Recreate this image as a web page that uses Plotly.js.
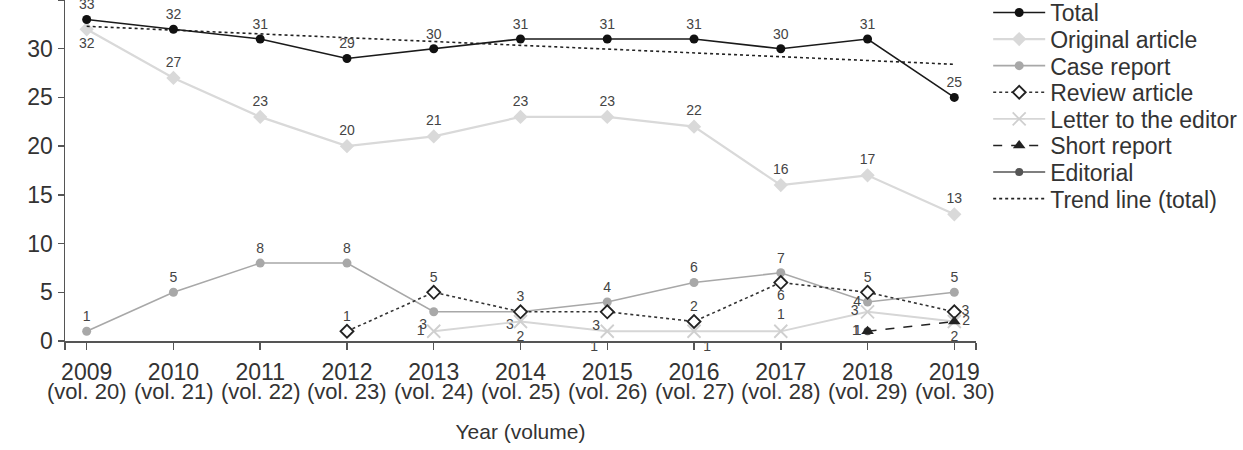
<!DOCTYPE html>
<html>
<head>
<meta charset="utf-8">
<script src="https://cdn.plot.ly/plotly-3.0.1.min.js"></script>
<style>
  html, body { margin: 0; padding: 0; background: #fff; }
  #chart { width: 1243px; height: 450px; }
</style>
</head>
<body>
<div id="chart"></div>
<script>
// Publications per year by article type
const years = [2009, 2010, 2011, 2012, 2013, 2014, 2015, 2016, 2017, 2018, 2019];
const volumes = ['(vol. 20)', '(vol. 21)', '(vol. 22)', '(vol. 23)', '(vol. 24)', '(vol. 25)',
                 '(vol. 26)', '(vol. 27)', '(vol. 28)', '(vol. 29)', '(vol. 30)'];

const total           = [33, 32, 31, 29, 30, 31, 31, 31, 30, 31, 25];
const originalArticle = [32, 27, 23, 20, 21, 23, 23, 22, 16, 17, 13];
const caseReport      = [1, 5, 8, 8, 3, 3, 4, 6, 7, 4, 5];
const reviewArticle   = [null, null, null, 1, 5, 3, 3, 2, 6, 5, 3];
const letterToEditor  = [null, null, null, null, 1, 2, 1, 1, 1, 3, 2];
const shortReport     = [null, null, null, null, null, null, null, null, null, 1, 2];
const editorial       = [null, null, null, null, null, null, null, null, null, 1, null];

// Linear trend of the totals, start and end values
const trendYears = [2009, 2019];
const trendTotal = [32.3, 28.4];

// Where each value label sits relative to its point
const posTotal    = years.map(() => 'top center');
const posOriginal = ['bottom center', 'top center', 'top center', 'top center', 'top center',
                     'top center', 'top center', 'top center', 'top center', 'top center', 'top center'];
const posCase     = ['top center', 'top center', 'top center', 'top center', 'bottom left',
                     'bottom left', 'top center', 'top center', 'top center', 'middle left', 'top center'];
const posReview   = ['top center', 'top center', 'top center', 'top center', 'top center',
                     'top center', 'bottom left', 'top center', 'bottom center', 'top center', 'middle right'];
const posLetter   = ['top center', 'top center', 'top center', 'top center', 'middle left',
                     'bottom center', 'bottom left', 'bottom right', 'top center', 'middle left', 'bottom center'];
const posShort    = ['top center', 'top center', 'top center', 'top center', 'top center',
                     'top center', 'top center', 'top center', 'top center', 'middle left', 'middle right'];
const posEditorial = years.map(() => 'middle left');

const FONT = 'Liberation Sans, Arial, sans-serif';
const labels = arr => arr.map(v => (v === null ? '' : String(v)));
const labelFont = { family: FONT, size: 14, color: '#444' };

function series(name, values, pos, rank, line, marker) {
  return {
    type: 'scatter',
    mode: 'lines+markers+text',
    name: name,
    x: years,
    y: values,
    text: labels(values),
    textposition: pos,
    textfont: labelFont,
    line: line,
    marker: marker,
    legendrank: rank,
    cliponaxis: false,
    hoverinfo: 'x+y+name'
  };
}

// Drawing order keeps the open diamonds and triangles above the grey lines;
// legendrank restores the reading order in the legend.
const traces = [
  series('Original article', originalArticle, posOriginal, 2,
         { color: '#d9d9d9', width: 2.2 },
         { symbol: 'diamond', size: 11, color: '#d9d9d9' }),
  series('Case report', caseReport, posCase, 3,
         { color: '#a8a8a8', width: 1.6 },
         { symbol: 'circle', size: 9, color: '#a8a8a8' }),
  series('Letter to the editor', letterToEditor, posLetter, 5,
         { color: '#d6d6d6', width: 1.8 },
         { symbol: 'x-thin-open', size: 13, color: '#cfcfcf', line: { color: '#cfcfcf', width: 1.8 } }),
  series('Review article', reviewArticle, posReview, 4,
         { color: '#333', width: 1.6, dash: 'dot' },
         { symbol: 'diamond', size: 10, color: '#fff', line: { color: '#222', width: 1.8 } }),
  series('Editorial', editorial, posEditorial, 7,
         { color: '#555', width: 1.6 },
         { symbol: 'circle', size: 8, color: '#555' }),
  series('Short report', shortReport, posShort, 6,
         { color: '#222', width: 1.6, dash: 'dash' },
         { symbol: 'triangle-up', size: 11, color: '#222' }),
  {
    type: 'scatter',
    mode: 'lines',
    name: 'Trend line (total)',
    x: trendYears,
    y: trendTotal,
    line: { color: '#222', width: 1.6, dash: 'dot' },
    legendrank: 8,
    hoverinfo: 'skip'
  },
  series('Total', total, posTotal, 1,
         { color: '#1a1a1a', width: 1.6 },
         { symbol: 'circle', size: 9, color: '#111' })
];

// Year ticks, plus unlabeled ticks closing both ends of the axis
const tickVals = [2008.75].concat(years, [2019.25]);
const tickText = [''].concat(years.map(String), ['']);

// Volume numbers as a second row under the years
const volumeRow = years.map((y, i) => ({
  x: y, xref: 'x',
  y: -0.149, yref: 'paper',
  yanchor: 'middle', xanchor: 'center',
  text: volumes[i],
  showarrow: false,
  font: { family: FONT, size: 22, color: '#333' }
}));

const layout = {
  width: 1243,
  height: 450,
  margin: { l: 65, r: 267, t: 0, b: 109 },
  paper_bgcolor: '#fff',
  plot_bgcolor: '#fff',
  font: { family: FONT, size: 22, color: '#333' },
  showlegend: true,
  legend: {
    xref: 'container', yref: 'container',
    x: 0.795, y: 1, xanchor: 'left', yanchor: 'top',
    font: { family: FONT, size: 23, color: '#333' },
    tracegroupgap: 0,
    itemwidth: 52,
    bgcolor: 'rgba(0,0,0,0)'
  },
  annotations: volumeRow,
  xaxis: {
    range: [2008.75, 2019.25],
    tickmode: 'array',
    tickvals: tickVals,
    ticktext: tickText,
    ticks: 'outside',
    ticklen: 7,
    tickwidth: 1.5,
    tickcolor: '#555',
    ticklabelstandoff: 3,
    showline: true,
    linecolor: '#555',
    linewidth: 1.5,
    showgrid: false,
    zeroline: false,
    tickfont: { family: FONT, size: 23, color: '#333' },
    title: { text: 'Year (volume)', font: { family: FONT, size: 21, color: '#333' }, standoff: 40 }
  },
  yaxis: {
    range: [0, 35],
    tickvals: [0, 5, 10, 15, 20, 25, 30, 35],
    ticks: 'outside',
    ticklen: 6,
    tickwidth: 1.5,
    tickcolor: '#555',
    showline: true,
    linecolor: '#555',
    linewidth: 1.5,
    showgrid: false,
    zeroline: false,
    tickfont: { family: FONT, size: 23, color: '#333' }
  }
};

// Legend rows are packed tighter than Plotly's default line height,
// and the block is lifted so the first row sits near the top edge.
const LEGEND_ROW = 26.6;
const LEGEND_LIFT = 9;
const parseShift = el => {
  const m = /translate\(\s*([-\d.]+)[ ,]+([-\d.]+)\s*\)/.exec(el.getAttribute('transform') || '');
  return m ? [parseFloat(m[1]), parseFloat(m[2])] : [0, 0];
};
function packLegend(gd) {
  const rows = gd.querySelectorAll('.legend .traces');
  if (!rows.length) return;
  const first = parseShift(rows[0]);
  rows.forEach((el, i) => {
    const p = parseShift(el);
    el.setAttribute('transform', 'translate(' + p[0] + ',' + (first[1] + i * LEGEND_ROW) + ')');
  });
  const box = gd.querySelector('.legend');
  if (box) {
    const p = parseShift(box);
    box.setAttribute('transform', 'translate(' + p[0] + ',' + (p[1] - LEGEND_LIFT) + ')');
  }
}

Plotly.newPlot('chart', traces, layout, { displayModeBar: false, staticPlot: true })
  .then(packLegend);
</script>
</body>
</html>
